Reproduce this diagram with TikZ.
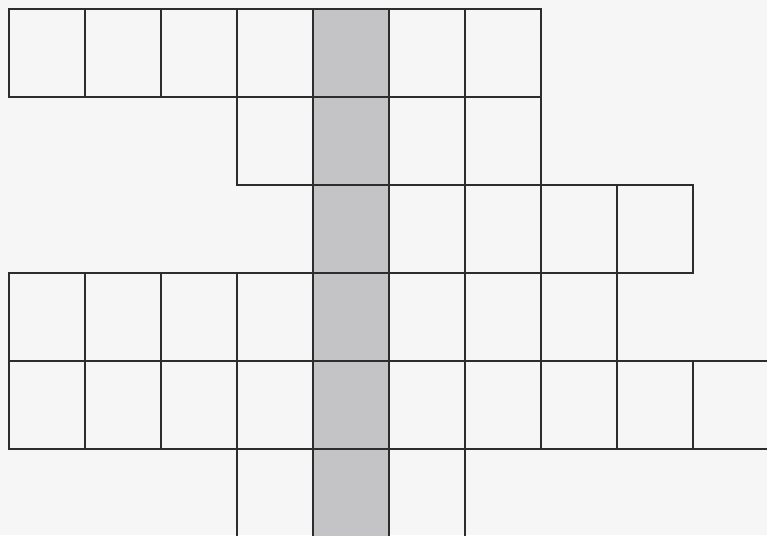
\documentclass[tikz,border=0pt]{standalone}
\usepackage{tikz}
\definecolor{paper}{RGB}{246,246,247}
\definecolor{stripgray}{RGB}{196,196,198}
\definecolor{gridline}{RGB}{45,45,45}
\tikzset{
	cell/.style={
		draw=gridline,
		line width=0.8pt
	},
	strip/.style={
		fill=stripgray
	}
}

\begin{document}
\begin{tikzpicture}[x=0.02cm,y=-0.02cm]
	
	% Page
	\useasboundingbox (0,0) rectangle (767,535);
	\fill[paper] (0,0) rectangle (767,535);
	
	% Shaded column
	\fill[strip] (313,9) rectangle (389,540);
	
	% Cells (row / first column / last column)
	\foreach \r/\a/\b in {0/0/6,1/3/6,2/4/8,3/0/7,4/0/9,5/3/5}{
		\foreach \c in {\a,...,\b}{
			\draw[cell] ({9+76*\c},{9+88*\r}) rectangle ++(76,88);
		}
	}
	
\end{tikzpicture}
\end{document}
